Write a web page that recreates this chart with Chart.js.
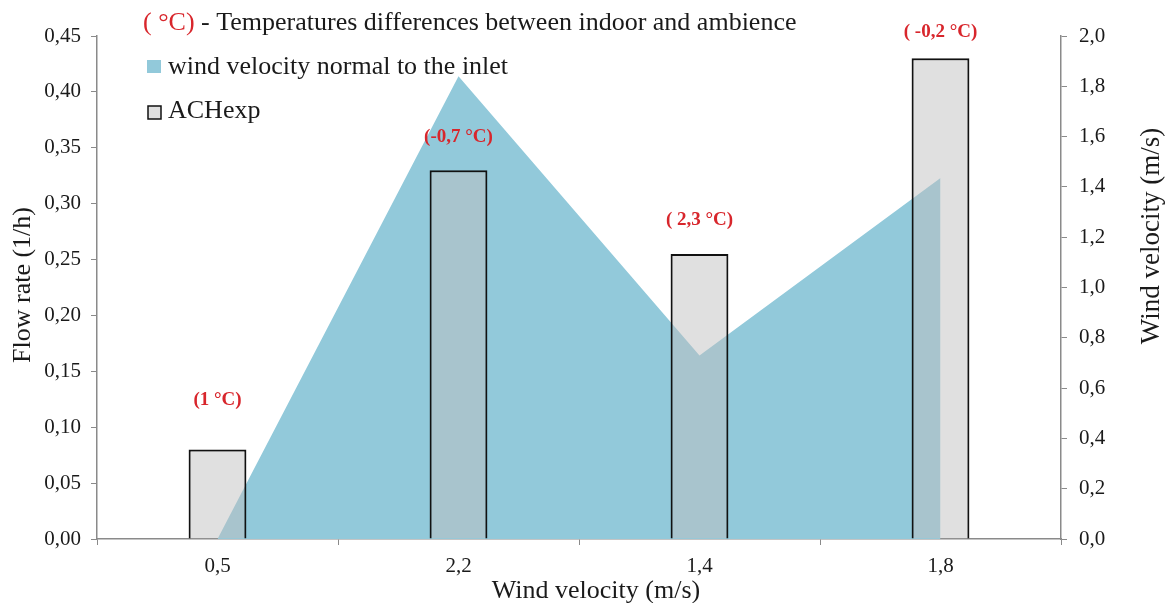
<!DOCTYPE html>
<html>
<head>
  <title>Flow rate vs wind velocity</title>
  <script src="https://cdn.jsdelivr.net/npm/chart.js"></script>
  <style>
    html, body { margin: 0; padding: 0; background: #fff; }
    #wrap { width: 1167px; height: 603px; }
  </style>
</head>
<body>
<div id="wrap"><canvas id="chart" width="1167" height="603"></canvas></div>

<script>
const categories = ['0,5', '2,2', '1,4', '1,8'];
const achExp = [0.08, 0.33, 0.255, 0.43];
const windNormal = [0.0, 1.84, 0.73, 1.435];
const tempLabels = ['(1 °C)', '(-0,7 °C)', '( 2,3 °C)', '( -0,2 °C)'];

const serif = '"Liberation Serif", "Times New Roman", serif';
const axisGray = '#8a8a8a';
const blue = '#92c9da';
const red = '#d8262c';
const ink = '#1a1a1a';

// red temperature labels above bars, legend and the axis titles
const extras = {
  id: 'extras',
  afterDatasetsDraw(chart) {
    const ctx = chart.ctx;
    const meta = chart.getDatasetMeta(0);
    const lift = [49, 33, 34, 26];
    ctx.save();
    ctx.font = 'bold 19px ' + serif;
    ctx.fillStyle = red;
    ctx.textAlign = 'center';
    ctx.textBaseline = 'middle';
    meta.data.forEach((bar, i) => {
      ctx.fillText(tempLabels[i], bar.x, bar.y - lift[i]);
    });

    // legend
    ctx.textAlign = 'left';
    ctx.font = '26px ' + serif;
    ctx.fillStyle = red;
    ctx.fillText('( °C)', 143, 23);
    const w = ctx.measureText('( °C)').width;
    ctx.fillStyle = ink;
    ctx.fillText(' - Temperatures differences between indoor and ambience', 143 + w, 23);

    ctx.fillStyle = blue;
    ctx.fillRect(147, 60, 14, 13);
    ctx.fillStyle = ink;
    ctx.fillText('wind velocity normal to the inlet', 168, 67);

    ctx.fillStyle = '#e0e0e0';
    ctx.fillRect(148, 106, 13, 13);
    ctx.strokeStyle = '#111';
    ctx.lineWidth = 1.5;
    ctx.strokeRect(148, 106, 13, 13);
    ctx.fillStyle = ink;
    ctx.fillText('ACHexp', 168, 111);

    // axis titles
    ctx.font = '26px ' + serif;
    ctx.textAlign = 'center';
    ctx.textBaseline = 'alphabetic';
    ctx.fillText('Wind velocity (m/s)', 596, 598);

    ctx.textBaseline = 'middle';
    ctx.save();
    ctx.translate(23, 285);
    ctx.rotate(-Math.PI / 2);
    ctx.fillText('Flow rate (1/h)', 0, 0);
    ctx.restore();

    ctx.translate(1152, 236);
    ctx.rotate(-Math.PI / 2);
    ctx.font = '27px ' + serif;
    ctx.fillText('Wind velocity (m/s)', 0, 0);
    ctx.restore();
  }
};

Chart.defaults.font.family = serif;
Chart.defaults.color = ink;

new Chart(document.getElementById('chart').getContext('2d'), {
  data: {
    labels: categories,
    datasets: [
      {
        type: 'bar',
        label: 'ACHexp',
        data: achExp,
        yAxisID: 'y',
        backgroundColor: 'rgba(191,191,191,0.49)',
        borderColor: '#111',
        borderWidth: 2,
        barPercentage: 0.24,
        categoryPercentage: 1,
        order: 0
      },
      {
        type: 'line',
        label: 'wind velocity normal to the inlet',
        data: windNormal,
        yAxisID: 'y1',
        fill: 'origin',
        backgroundColor: blue,
        borderWidth: 0,
        borderColor: blue,
        pointRadius: 0,
        tension: 0,
        order: 1
      }
    ]
  },
  options: {
    responsive: false,
    animation: false,
    layout: { padding: { top: 36 } },
    plugins: {
      legend: { display: false },
      tooltip: { enabled: false }
    },
    scales: {
      x: {
        offset: true,
        grid: { drawOnChartArea: false, color: axisGray, tickLength: 6, offset: true },
        border: { color: axisGray, width: 1.5 },
        ticks: { font: { size: 21 }, padding: 9 },
        afterFit: s => { s.height = 64; }
      },
      y: {
        position: 'left',
        min: 0, max: 0.45,
        grid: { drawOnChartArea: false, color: axisGray, tickLength: 6 },
        border: { color: axisGray, width: 1.5 },
        ticks: { stepSize: 0.05, font: { size: 21 }, padding: 10,
          callback: v => v.toFixed(2).replace('.', ',') },
        afterFit: s => { s.width = 97; }
      },
      y1: {
        position: 'right',
        min: 0, max: 2.0,
        grid: { drawOnChartArea: false, color: axisGray, tickLength: 6 },
        border: { color: axisGray, width: 1.5 },
        ticks: { stepSize: 0.2, font: { size: 21 }, padding: 12,
          callback: v => v.toFixed(1).replace('.', ',') },
        afterFit: s => { s.width = 106; }
      }
    }
  },
  plugins: [extras]
});
</script>
</body>
</html>
